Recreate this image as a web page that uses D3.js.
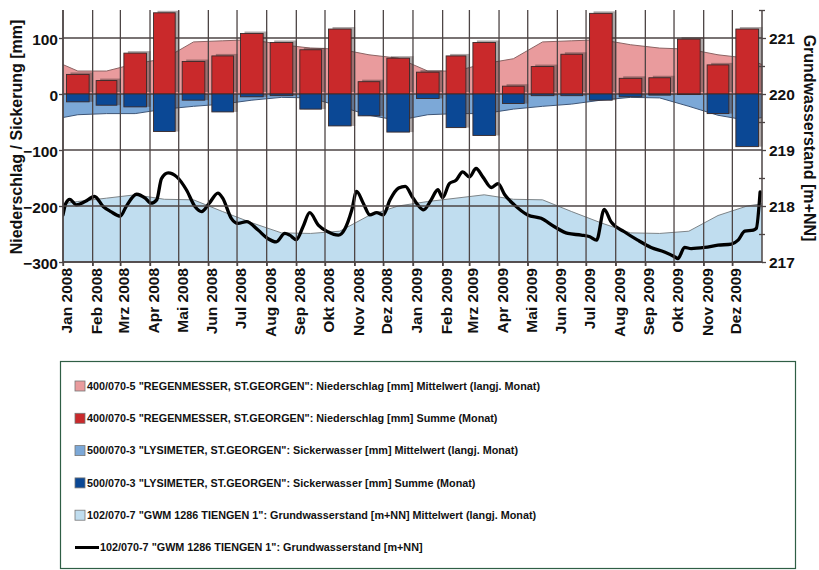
<!DOCTYPE html>
<html>
<head>
<meta charset="utf-8">
<script src="https://cdn.jsdelivr.net/npm/d3@7"></script>
<style>
  body { margin: 0; background: #fff; }
  text { font-family: "Liberation Sans", Arial, sans-serif; font-weight: bold; fill: #111; }
</style>
</head>
<body>
<svg id="chart" width="819" height="570"></svg>
<script>
// Month labels (German) and years
const monthNames = ["Jan", "Feb", "Mrz", "Apr", "Mai", "Jun", "Jul", "Aug", "Sep", "Okt", "Nov", "Dez"];

// Monthly precipitation sum [mm], Jan 2008 .. Dez 2009
const precipSum = [35, 24, 73, 145, 58, 68, 108, 92, 79, 116, 22, 64,
                   39, 68, 92, 14, 49, 71, 144, 28, 29, 98, 52, 116];
// Monthly seepage sum [mm] (drawn downward), Jan 2008 .. Dez 2009
const seepSum = [-14, -20, -23, -67, -11, -32, -5, -3, -27, -57, -39, -68,
                 -8, -60, -74, -17, -3, -3, -11, -5, -2, -1, -35, -94];
// Long-term monthly means (Jan .. Dez)
const precipMean = [41, 41, 54, 63, 93, 95, 97, 88, 82, 80, 70, 64];
const seepMean = [-37, -35, -35, -27, -22, -18, -11, -6, -7, -22, -38, -47];
const gwMean = [218.08, 218.14, 218.20, 218.12, 218.11, 217.90, 217.70, 217.52, 217.51, 217.55, 217.83, 218.00];

// Groundwater level [m+NN]
const gwDates = [
  "2008-01-01","2008-01-04","2008-01-08","2008-01-15","2008-01-24","2008-02-03","2008-02-12","2008-02-20",
  "2008-03-01","2008-03-07","2008-03-18","2008-03-27","2008-04-02","2008-04-08","2008-04-13","2008-04-20",
  "2008-04-29","2008-05-09","2008-05-18","2008-05-25","2008-06-02","2008-06-11","2008-06-16","2008-06-25",
  "2008-07-02","2008-07-11","2008-07-23","2008-08-02","2008-08-11","2008-08-20","2008-08-25","2008-09-01",
  "2008-09-08","2008-09-15","2008-09-24","2008-10-04","2008-10-15","2008-10-22","2008-10-29","2008-11-03",
  "2008-11-10","2008-11-17","2008-11-24","2008-12-01","2008-12-08","2008-12-17","2008-12-24","2008-12-31",
  "2009-01-06","2009-01-12","2009-01-20","2009-01-27","2009-02-01","2009-02-08","2009-02-15","2009-02-22",
  "2009-03-01","2009-03-08","2009-03-15","2009-03-24","2009-03-31","2009-04-07","2009-04-17","2009-05-01",
  "2009-05-15","2009-05-29","2009-06-12","2009-06-26","2009-07-05","2009-07-12","2009-07-20","2009-07-27",
  "2009-08-10","2009-08-24","2009-09-07","2009-09-21","2009-10-02","2009-10-05","2009-10-12","2009-10-19",
  "2009-11-02","2009-11-16","2009-11-30","2009-12-07","2009-12-14","2009-12-23","2009-12-26","2009-12-30"
];
const gwLevel = [
  217.84, 218.05, 218.12, 218.02, 218.08, 218.17, 217.99, 217.90,
  217.82, 217.99, 218.21, 218.14, 218.05, 218.11, 218.49, 218.59,
  218.52, 218.29, 217.99, 217.90, 218.05, 218.23, 218.14, 217.78,
  217.69, 217.72, 217.57, 217.42, 217.36, 217.51, 217.48, 217.40,
  217.63, 217.88, 217.66, 217.54, 217.48, 217.60, 217.93, 218.26,
  218.05, 217.84, 217.88, 217.84, 218.11, 218.32, 218.35, 218.17,
  218.02, 217.93, 218.11, 218.29, 218.15, 218.40, 218.46, 218.61,
  218.52, 218.67, 218.52, 218.33, 218.40, 218.20, 218.02, 217.84,
  217.78, 217.63, 217.51, 217.48, 217.45, 217.39, 217.94, 217.72,
  217.54, 217.39, 217.26, 217.18, 217.09, 217.06, 217.26, 217.24,
  217.26, 217.30, 217.32, 217.39, 217.55, 217.57, 217.60, 218.25
];

// Axis ticks
const leftTicks = [100, 0, -100, -200, -300];
const rightTicks = [221, 220, 219, 218, 217];
const rightMinorTicks = [221.5, 220.5, 219.5, 218.5, 217.5];

// Legend entries
const legendLabels = [
  '400/070-5 "REGENMESSER, ST.GEORGEN": Niederschlag [mm] Mittelwert (langj. Monat)',
  '400/070-5 "REGENMESSER, ST.GEORGEN": Niederschlag [mm] Summe (Monat)',
  '500/070-3 "LYSIMETER, ST.GEORGEN": Sickerwasser [mm] Mittelwert (langj. Monat)',
  '500/070-3 "LYSIMETER, ST.GEORGEN": Sickerwasser [mm] Summe (Monat)',
  '102/070-7 "GWM 1286 TIENGEN 1": Grundwasserstand [m+NN] Mittelwert (langj. Monat)',
  '102/070-7 "GWM 1286 TIENGEN 1": Grundwasserstand [m+NN]'
];
const legendKinds = ["rect", "rect", "rect", "rect", "rect", "line"];

// Colours
const C = {
  precipMean: "#e99b9d", precipMeanEdge: "#8c6464",
  precip: "#c9292b",
  seepMean: "#7ca8d7", seepMeanEdge: "#3d5577",
  seep: "#0b4895",
  gwMean: "#c0ddef", gwMeanEdge: "#7d8488",
  grid: "#4d4545", barEdge: "#3a2a2a",
  shadow: "rgba(60,45,45,0.42)",
  legendBorder: "#2f5e45"
};
const legendColors = [C.precipMean, C.precip, C.seepMean, C.seep, C.gwMean, "#000"];

// ---------------------------------------------------------------
const svg = d3.select("#chart");
const P = { l: 63, r: 762, t: 10, b: 262 };

const t0 = new Date(Date.UTC(2008, 0, 1));
const t1 = new Date(Date.UTC(2010, 0, 1));
const x = d3.scaleUtc().domain([t0, t1]).range([P.l, P.r]);
const y = d3.scaleLinear().domain([-300, 150]).range([P.b, P.t]);
const yR = d3.scaleLinear().domain([217, 221.5]).range([P.b, P.t]);

const monthStarts = d3.utcMonth.range(t0, t1);

// long-term monthly means placed at month centres, one extra month on each side
function meanSeries(means) {
  const pts = [];
  for (let k = -1; k <= 24; k++) {
    const s = Date.UTC(2008, k, 1), e = Date.UTC(2008, k + 1, 1);
    pts.push({ t: new Date((s + e) / 2), v: means[((k % 12) + 12) % 12] });
  }
  return pts;
}

svg.append("defs").append("clipPath").attr("id", "plotClip")
  .append("rect").attr("x", P.l).attr("y", P.t).attr("width", P.r - P.l).attr("height", P.b - P.t);

const plot = svg.append("g").attr("clip-path", "url(#plotClip)");

// groundwater long-term mean (area from the bottom)
const gwPts = meanSeries(gwMean);
plot.append("path").datum(gwPts)
  .attr("d", d3.area().x(d => x(d.t)).y0(P.b).y1(d => yR(d.v)))
  .attr("fill", C.gwMean);
plot.append("path").datum(gwPts)
  .attr("d", d3.line().x(d => x(d.t)).y(d => yR(d.v)))
  .attr("fill", "none").attr("stroke", C.gwMeanEdge).attr("stroke-width", 1);

// precipitation long-term mean
const pmPts = meanSeries(precipMean);
plot.append("path").datum(pmPts)
  .attr("d", d3.area().x(d => x(d.t)).y0(y(0)).y1(d => y(d.v)))
  .attr("fill", C.precipMean);
plot.append("path").datum(pmPts)
  .attr("d", d3.line().x(d => x(d.t)).y(d => y(d.v)))
  .attr("fill", "none").attr("stroke", C.precipMeanEdge).attr("stroke-width", 1);

// seepage long-term mean
const smPts = meanSeries(seepMean);
plot.append("path").datum(smPts)
  .attr("d", d3.area().x(d => x(d.t)).y0(y(0)).y1(d => y(d.v)))
  .attr("fill", C.seepMean);
plot.append("path").datum(smPts)
  .attr("d", d3.line().x(d => x(d.t)).y(d => y(d.v)))
  .attr("fill", "none").attr("stroke", C.seepMeanEdge).attr("stroke-width", 1);

// grid
const grid = svg.append("g").attr("stroke", C.grid).attr("stroke-width", 1.3);
grid.selectAll("line.v").data(monthStarts).join("line")
  .attr("x1", d => x(d)).attr("x2", d => x(d))
  .attr("y1", P.t).attr("y2", P.b + 4);
grid.selectAll("line.h").data(leftTicks).join("line")
  .attr("x1", P.l).attr("x2", P.r)
  .attr("y1", d => y(d)).attr("y2", d => y(d));

// monthly bars with a soft shadow
const barData = monthStarts.map((s, i) => ({
  x0: x(s) + 3.5, x1: x(d3.utcMonth.offset(s, 1)) - 3.5, p: precipSum[i], s: seepSum[i]
}));
const bars = svg.append("g");
function barRect(sel, val, dx, dy) {
  sel.attr("x", d => d.x0 + dx).attr("width", d => d.x1 - d.x0)
     .attr("y", d => Math.min(y(0), y(val(d))) + dy)
     .attr("height", d => Math.abs(y(val(d)) - y(0)));
}
bars.selectAll("rect.ps").data(barData).join("rect").call(barRect, d => d.p, 4, -2).attr("fill", C.shadow);
bars.selectAll("rect.ss").data(barData).join("rect").call(barRect, d => d.s, 4, 0).attr("fill", C.shadow);
bars.selectAll("rect.p").data(barData).join("rect").call(barRect, d => d.p, 0, 0)
  .attr("fill", C.precip).attr("stroke", C.barEdge).attr("stroke-width", 0.9);
bars.selectAll("rect.s").data(barData).join("rect").call(barRect, d => d.s, 0, 0)
  .attr("fill", C.seep).attr("stroke", C.barEdge).attr("stroke-width", 0.9);

// groundwater level line
const gwData = gwDates.map((d, i) => ({ t: new Date(d + "T00:00:00Z"), v: gwLevel[i] }));
plot.append("path").datum(gwData)
  .attr("d", d3.line().x(d => x(d.t)).y(d => yR(d.v)).curve(d3.curveMonotoneX))
  .attr("fill", "none").attr("stroke", "#000").attr("stroke-width", 3.3)
  .attr("stroke-linejoin", "round").attr("stroke-linecap", "round");

// frame (left, right, bottom)
const frame = svg.append("g").attr("stroke", C.grid).attr("stroke-width", 1.5);
frame.append("line").attr("x1", P.l).attr("x2", P.l).attr("y1", P.t).attr("y2", P.b);
frame.append("line").attr("x1", P.r).attr("x2", P.r).attr("y1", P.t).attr("y2", P.b);
frame.append("line").attr("x1", P.l).attr("x2", P.r).attr("y1", P.b).attr("y2", P.b);

// axes
const axL = svg.append("g").attr("transform", `translate(${P.l},0)`)
  .call(d3.axisLeft(y).tickValues(leftTicks).tickSize(4).tickPadding(1).tickFormat(d3.format("d")));
const axR = svg.append("g").attr("transform", `translate(${P.r},0)`)
  .call(d3.axisRight(yR).tickValues(rightTicks).tickSize(4).tickPadding(3).tickFormat(d3.format("d")));
svg.append("g").attr("transform", `translate(${P.r - 3},0)`)
  .call(d3.axisRight(yR).tickValues(rightMinorTicks).tickSize(6).tickFormat(""))
  .call(g => g.select(".domain").remove());
const axB = svg.append("g").attr("transform", `translate(0,${P.b})`)
  .call(d3.axisBottom(x).tickValues(monthStarts).tickSize(4)
    .tickFormat(d => monthNames[d.getUTCMonth()] + " " + d.getUTCFullYear()));

[axL, axR, axB].forEach(a => {
  a.select(".domain").remove();
  a.selectAll(".tick line").attr("stroke", C.grid).attr("stroke-width", 1.3);
});
svg.selectAll(".tick line").attr("stroke", C.grid).attr("stroke-width", 1.3);
axL.selectAll("text").style("font-size", "15.5px").attr("dy", "0.42em")
  .style("font-family", '"Liberation Sans", Arial, sans-serif').style("font-weight", "bold").attr("fill", "#111");
axR.selectAll("text").style("font-size", "15.5px").attr("dy", "0.38em")
  .style("font-family", '"Liberation Sans", Arial, sans-serif').style("font-weight", "bold").attr("fill", "#111");
axB.selectAll("text")
  .style("font-size", "15.5px").style("font-family", '"Liberation Sans", Arial, sans-serif')
  .style("font-weight", "bold").attr("fill", "#111")
  .attr("transform", "rotate(-90)").attr("text-anchor", "end")
  .attr("x", -6).attr("y", 3).attr("dy", "0.35em");

// axis titles
svg.append("text").attr("transform", "translate(22,137) rotate(-90)")
  .attr("text-anchor", "middle").style("font-size", "16px")
  .text("Niederschlag / Sickerung [mm]");
svg.append("text").attr("transform", "translate(804,138) rotate(90)")
  .attr("text-anchor", "middle").style("font-size", "16px")
  .text("Grundwasserstand [m+NN]");

// legend
const lg = svg.append("g");
lg.append("rect").attr("x", 60.5).attr("y", 361.5).attr("width", 735).attr("height", 207)
  .attr("fill", "#fff").attr("stroke", C.legendBorder).attr("stroke-width", 1.2);
const rows = lg.selectAll("g.row").data(legendLabels).join("g")
  .attr("transform", (d, i) => `translate(0,${386 + i * 32.3})`);
rows.each(function (d, i) {
  const r = d3.select(this);
  if (legendKinds[i] === "rect") {
    r.append("rect").attr("x", 75).attr("y", -5).attr("width", 10).attr("height", 10)
      .attr("fill", legendColors[i]).attr("stroke", "#777").attr("stroke-width", 0.8);
    r.append("text").attr("x", 87).attr("y", 0).attr("dy", "0.36em").style("font-size", "10.8px").text(d);
  } else {
    r.append("line").attr("x1", 75).attr("x2", 99).attr("y1", 0).attr("y2", 0)
      .attr("stroke", "#000").attr("stroke-width", 3);
    r.append("text").attr("x", 100).attr("y", 0).attr("dy", "0.36em").style("font-size", "10.8px").text(d);
  }
});
</script>
</body>
</html>
